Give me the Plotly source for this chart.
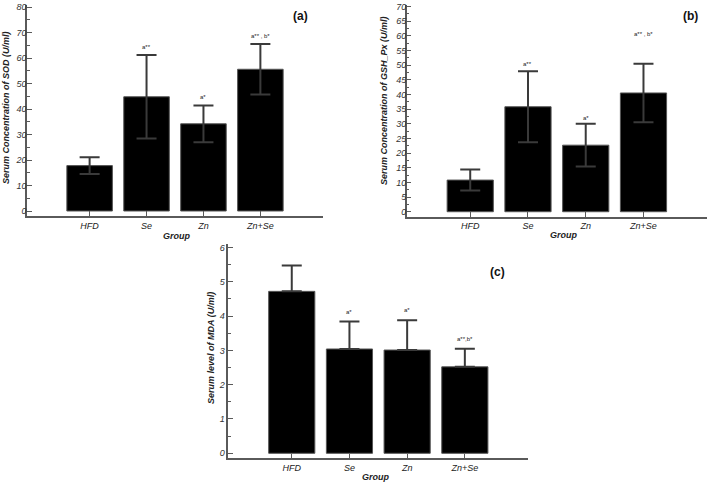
import plotly.graph_objects as go

# ---------------- data ----------------
groups = ["HFD", "Se", "Zn", "Zn+Se"]

sod_mean = [17.8, 44.8, 34.2, 55.6]
sod_err = [3.3, 16.4, 7.2, 9.9]
sod_sig = ["", "a**", "a*", "a** , b*"]

gsh_mean = [10.8, 35.8, 22.7, 40.5]
gsh_err = [3.6, 12.1, 7.3, 10.0]
gsh_sig = ["", "a**", "a*", "a** , b*"]

mda_mean = [4.72, 3.04, 3.01, 2.52]
mda_err = [0.75, 0.80, 0.87, 0.53]
mda_sig = ["", "a*", "a*", "a**,b*"]

panel_labels = ["(a)", "(b)", "(c)"]
ytitles = ["Serum Concentration of SOD (U/ml)",
           "Serum Concentration of GSH_Px (U/ml)",
           "Serum level of MDA (U/ml)"]
xtitle = "Group"

# ---------------- layout helpers ----------------
W, H = 709, 483
FONT = "Liberation Sans, Arial, Helvetica, sans-serif"


def px2x(p):
    return p / W


def px2y(p):
    return (H - p) / H


fig = go.Figure()

panels = [
    dict(mean=sod_mean, err=sod_err, sig=sod_sig, xp=(27, 323), yp=(5, 216),
         yr=(-1.96, 80.8), dtick=10, minor=5, upper_only=False,
         sig_shift=[0, 8, 8, 8], standoff=-3),
    dict(mean=gsh_mean, err=gsh_err, sig=gsh_sig, xp=(406.7, 707), yp=(5, 216.7),
         yr=(-1.7, 70.5), dtick=5, minor=2.5, upper_only=False,
         sig_shift=[0, 7, 6, 30], standoff=-3),
    dict(mean=mda_mean, err=mda_err, sig=mda_sig, xp=(228.3, 528.3), yp=(244, 458.3),
         yr=(-0.146, 6.1), dtick=1, minor=0.5, upper_only=True,
         sig_shift=[0, 10, 10, 10], standoff=0),
]

annotations = []
for i, p in enumerate(panels):
    sfx = "" if i == 0 else str(i + 1)
    xa, ya = "x" + sfx, "y" + sfx
    err = dict(type="data", array=p["err"], visible=True, color="#3a3a3a",
               thickness=2, width=10)
    if p["upper_only"]:
        err["symmetric"] = False
        err["arrayminus"] = [0] * len(p["err"])
    fig.add_trace(go.Bar(
        x=groups, y=p["mean"], xaxis=xa, yaxis=ya,
        marker=dict(color="#000000", line=dict(color="#555555", width=1)),
        error_y=err, showlegend=False, hoverinfo="skip",
    ))
    axis_line = dict(showline=True, linecolor="#5a5a5a", linewidth=1.5,
                     showgrid=False, zeroline=False, automargin=False)
    fig.layout["xaxis" + sfx] = dict(
        domain=[px2x(p["xp"][0]), px2x(p["xp"][1])], anchor=ya,
        range=[-1.1, 4.1], type="category",
        ticks="inside", ticklen=5, tickcolor="#5a5a5a",
        tickfont=dict(family=FONT, size=9, color="#222", style="italic"),
        **axis_line)
    fig.layout["yaxis" + sfx] = dict(
        domain=[px2y(p["yp"][1]), px2y(p["yp"][0])], anchor=xa,
        range=list(p["yr"]), dtick=p["dtick"], tick0=0,
        ticks="inside", ticklen=5, tickcolor="#5a5a5a",
        minor=dict(dtick=p["minor"], ticks="inside", ticklen=3, tickcolor="#5a5a5a"),
        ticklabelstandoff=p["standoff"],
        tickfont=dict(family=FONT, size=9, color="#333", style="italic"),
        **axis_line)
    # significance labels above error bars
    for g, m, e, s, sh in zip(groups, p["mean"], p["err"], p["sig"], p["sig_shift"]):
        if s:
            annotations.append(dict(
                x=g, y=m + e, xref=xa, yref=ya, text=s, showarrow=False,
                yshift=sh, yanchor="middle",
                font=dict(family=FONT, size=6, color="#222")))

# panel labels
for (lbl, xp, yp) in zip(panel_labels, [300, 690, 497], [16, 16, 272]):
    annotations.append(dict(
        x=px2x(xp), y=px2y(yp), xref="paper", yref="paper", text=lbl,
        showarrow=False, xanchor="center", yanchor="middle",
        font=dict(family=FONT, size=12, color="#111", weight="bold")))

# y axis titles
for (t, xp, yp) in zip(ytitles, [6, 384, 211], [108, 101, 348]):
    annotations.append(dict(
        x=px2x(xp), y=px2y(yp), xref="paper", yref="paper", text=t,
        showarrow=False, textangle=-90, xanchor="center", yanchor="middle",
        font=dict(family=FONT, size=9, color="#222", weight="bold", style="italic")))

# x axis titles
for (xp, yp) in zip([176, 563, 376], [236, 235, 477]):
    annotations.append(dict(
        x=px2x(xp), y=px2y(yp), xref="paper", yref="paper", text=xtitle,
        showarrow=False, xanchor="center", yanchor="middle",
        font=dict(family=FONT, size=9, color="#222", weight="bold", style="italic")))

fig.update_layout(
    width=W, height=H, margin=dict(l=0, r=0, t=0, b=0),
    paper_bgcolor="white", plot_bgcolor="white",
    bargap=0.2, annotations=annotations, showlegend=False,
)

fig.write_html("out.html", config={"displayModeBar": False},
               post_script="document.body.style.margin='0px';document.body.style.padding='0px';document.body.style.overflow='hidden';")
